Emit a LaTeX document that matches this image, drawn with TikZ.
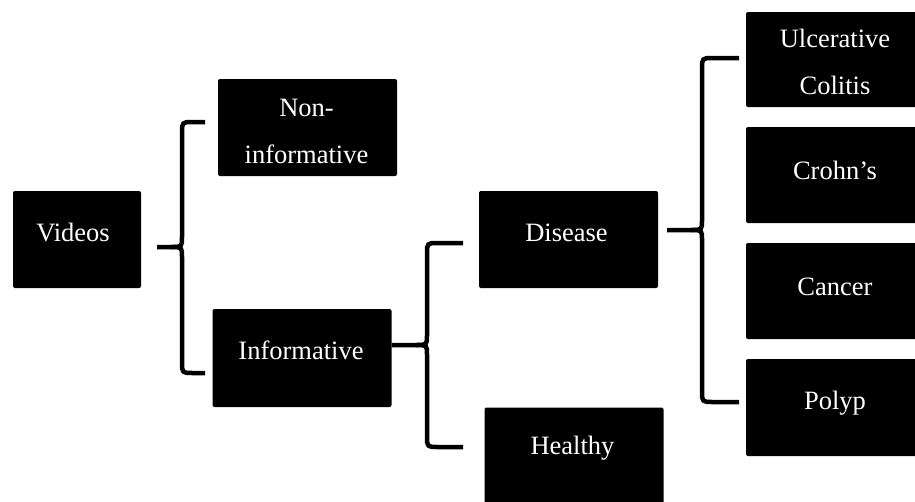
\documentclass[tikz,border=0pt]{standalone}
\usepackage{fontspec}
\setmainfont{Liberation Serif}
\begin{document}
\begin{tikzpicture}[x=1pt,y=-1pt,
  box/.style={fill=black, draw=none, rounded corners=2pt, inner sep=0pt, minimum width=179pt, minimum height=97pt},
  lbl/.style={text=white, font=\fontsize{26.5}{47}\selectfont, align=center, inner sep=0pt},
  brace/.style={draw=black, line width=4.5pt, line join=round}]
\useasboundingbox (0,0) rectangle (915,501);
% boxes
\node[box, minimum width=128pt] (videos) at (77,239.5) {};
\node[box] (noninf) at (307.5,127.5) {};
\node[box, minimum height=98pt] (inform) at (302,358) {};
\node[box] (disease) at (568.5,239.5) {};
\node[box] (healthy) at (574,456) {};
\node[box, minimum height=95pt] (uc) at (835.5,59.5) {};
\node[box, minimum height=96pt] (crohn) at (835.5,175) {};
\node[box, minimum height=96pt] (cancer) at (835.5,291) {};
\node[box, minimum height=97pt] (polyp) at (835.5,407.5) {};
% labels
\node[lbl] (videosT) at (73,233) {Videos};
\node[lbl] (noninfT) at (306.5,131.5) {Non-\\informative};
\node[lbl] (informT) at (301,350) {Informative};
\node[lbl] (diseaseT) at (566.5,233) {Disease};
\node[lbl] (healthyT) at (572.5,448) {Healthy};
\node[lbl] (ucT) at (835,62) {Ulcerative\\Colitis};
\node[lbl] (crohnT) at (835,170) {Crohn’s};
\node[lbl] (cancerT) at (835,287) {Cancer};
\node[lbl] (polypT) at (835,403) {Polyp};
% brace 1
\coordinate (b1t) at (205,122);
\coordinate (b1b) at (205,373);
\coordinate (b1m) at (157,247);
\draw[brace] (b1t) -- (193,122) .. controls (182,122) .. (182,133) -- (182,237) .. controls (182,247) .. (171,247) -- (b1m);
\draw[brace] (b1b) -- (193,373) .. controls (182,373) .. (182,362) -- (182,257) .. controls (182,247) .. (171,247);
% brace 2
\coordinate (b2t) at (463,243);
\coordinate (b2b) at (463,447);
\coordinate (b2m) at (inform.east |- 0,345);
\draw[brace] (b2t) -- (438,243) .. controls (427,243) .. (427,254) -- (427,335) .. controls (427,345) .. (416,345) -- (b2m);
\draw[brace] (b2b) -- (438,447) .. controls (427,447) .. (427,436) -- (427,355) .. controls (427,345) .. (416,345);
% brace 3
\coordinate (b3t) at (739,58);
\coordinate (b3b) at (739,402);
\coordinate (b3m) at (667,230);
\draw[brace] (b3t) -- (713,58) .. controls (702,58) .. (702,69) -- (702,220) .. controls (702,230) .. (691,230) -- (b3m);
\draw[brace] (b3b) -- (713,402) .. controls (702,402) .. (702,391) -- (702,240) .. controls (702,230) .. (691,230);
\end{tikzpicture}
\end{document}
